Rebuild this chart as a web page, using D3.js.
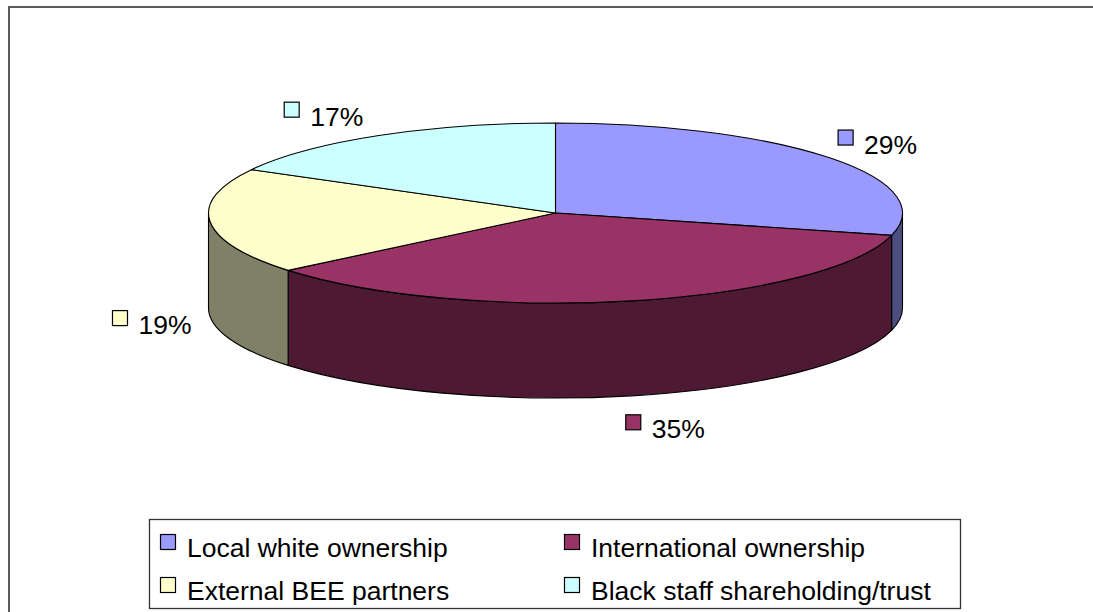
<!DOCTYPE html>
<html><head><meta charset="utf-8">
<script src="https://cdn.jsdelivr.net/npm/d3@7"></script>
<style>body{margin:0;background:#fff;overflow:hidden}text{font-family:"Liberation Sans",Arial,sans-serif}</style>
</head><body><svg id="c" width="1093" height="612"></svg>
<script>
const categories = ["Local white ownership","International ownership","External BEE partners","Black staff shareholding/trust"];
const values = [29, 35, 19, 17];
const valueLabels = ["29%", "35%", "19%", "17%"];
const topColors = ["#9999FF", "#993366", "#FFFFCC", "#CCFFFF"];
const sideColors = ["#4D4D80", "#4D1933", "#808066", "#668080"];
const labelNudges = [[20, 0], [26, 11], [-24, 6], [-38, 0]];

const svg = d3.select("#c");
const W = 1093, H = 612;
const cx = 555.5, cy = 213, rx = 347, ry = 90, depth = 95;

// outer frame
svg.append("rect").attr("x", 9).attr("y", 7).attr("width", 1200).attr("height", 800)
  .attr("fill", "#fff").attr("stroke", "#5a5a5a").attr("stroke-width", 2);

const pie = d3.pie().sort(null).value(d => d)(values);
const pt = (a, dy = 0) => [cx + rx * Math.sin(a), cy - ry * Math.cos(a) + dy];

const g = svg.append("g");
// side walls (front half)
pie.forEach((p, i) => {
  const s = Math.max(p.startAngle, Math.PI / 2), e = Math.min(p.endAngle, 3 * Math.PI / 2);
  if (s >= e) return;
  const p0 = pt(s), p1 = pt(e), p2 = pt(e, depth), p3 = pt(s, depth);
  const large = (e - s) > Math.PI ? 1 : 0;
  const d = `M${p0}A${rx},${ry} 0 ${large} 1 ${p1}L${p2}A${rx},${ry} 0 ${large} 0 ${p3}Z`;
  g.append("path").attr("d", d).attr("fill", sideColors[i]).attr("stroke", "#000").attr("stroke-width", 1.1).attr("stroke-linejoin", "round");
});
// top faces
pie.forEach((p, i) => {
  const p0 = pt(p.startAngle), p1 = pt(p.endAngle);
  const large = (p.endAngle - p.startAngle) > Math.PI ? 1 : 0;
  const d = `M${cx},${cy}L${p0}A${rx},${ry} 0 ${large} 1 ${p1}Z`;
  g.append("path").attr("d", d).attr("fill", topColors[i]).attr("stroke", "#000").attr("stroke-width", 1.1).attr("stroke-linejoin", "round");
});

// data labels
pie.forEach((p, i) => {
  const m = (p.startAngle + p.endAngle) / 2;
  const bx = cx + rx * 1.1 * Math.sin(m);
  const by = cy - ry * 1.25 * Math.cos(m) + (Math.cos(m) < 0 ? depth : 0);
  const lx = bx + labelNudges[i][0], ly = by + labelNudges[i][1];
  svg.append("rect").attr("x", lx - 39).attr("y", ly - 14).attr("width", 15).attr("height", 15)
    .attr("fill", topColors[i]).attr("stroke", "#000").attr("stroke-width", 1.2);
  svg.append("text").attr("x", lx - 13).attr("y", ly + 9.5).attr("font-size", 26.5).attr("fill", "#000").text(valueLabels[i]);
});

// legend
const legend = svg.append("g");
legend.append("rect").attr("x", 149.5).attr("y", 519.5).attr("width", 811).attr("height", 89)
  .attr("fill", "#fff").attr("stroke", "#333").attr("stroke-width", 1.3);
const colX = d3.scalePoint().domain([0, 1]).range([160.5, 564.5]);
const rowY = d3.scalePoint().domain([0, 1]).range([534.5, 577.5]);
categories.forEach((c, i) => {
  const x = colX(i % 2), y = rowY(Math.floor(i / 2));
  legend.append("rect").attr("x", x).attr("y", y).attr("width", 15).attr("height", 15)
    .attr("fill", topColors[i]).attr("stroke", "#000").attr("stroke-width", 1.2);
  legend.append("text").attr("x", x + 26.5).attr("y", y + 22.5).attr("font-size", 26.5).attr("fill", "#000").text(c);
});
</script></body></html>
